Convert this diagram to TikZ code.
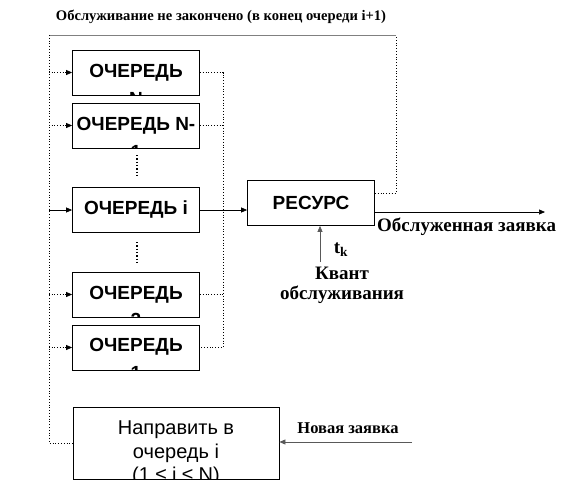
\documentclass[tikz,border=0pt]{standalone}
\usepackage{fontspec}
\setmainfont{Liberation Serif}
\newfontfamily\arialf{Liberation Sans}
\usetikzlibrary{arrows.meta,calc}
\begin{document}
\begin{tikzpicture}[x=1pt,y=-1pt,
  qbox/.style={draw,line width=0.8pt,minimum width=127pt,minimum height=45pt,inner sep=0pt},
  qtext/.style={font=\arialf\bfseries\fontsize{19}{22}\selectfont,inner sep=0pt},
  btext/.style={font=\arialf\fontsize{20}{23}\selectfont,inner sep=0pt},
  slabel/.style={font=\bfseries\fontsize{14.6}{17}\selectfont,inner sep=0pt},
  nlabel/.style={font=\bfseries\fontsize{16.5}{19}\selectfont,inner sep=0pt},
  llabel/.style={font=\bfseries\fontsize{19}{22}\selectfont,inner sep=0pt},
  arr/.style={-{Triangle[length=6pt,width=5pt]},line width=0.7pt},
  bus/.style={dotted,line width=0.8pt}]
\useasboundingbox (0,0) rectangle (585,482);
% boxes
\node[qbox] (q1) at (136,72.5) {};
\node[qbox] (q2) at (136,125.5) {};
\node[qbox] (q3) at (136,210) {};
\node[qbox] (q4) at (136,294.5) {};
\node[qbox] (q5) at (136,347.5) {};
\node[qbox] (res) at (311,203) {};
\node[draw,line width=0.8pt,minimum width=206pt,minimum height=72pt,inner sep=0pt] (bot) at (176,443) {};
% clipped texts
\begin{scope}\clip (q1.south west) rectangle (q1.north east);
  \node[qtext] (t1a) at (136,72.5) {ОЧЕРЕДЬ};
  \node[qtext] (t1b) at (136,99) {N};
\end{scope}
\begin{scope}\clip (q2.south west) rectangle (q2.north east);
  \node[qtext] (t2a) at (136,125.5) {ОЧЕРЕДЬ N-};
  \node[qtext] (t2b) at (136,152) {1};
\end{scope}
\node[qtext] (t3) at (136,210) {ОЧЕРЕДЬ i};
\begin{scope}\clip (q4.south west) rectangle (q4.north east);
  \node[qtext] (t4a) at (136,294.5) {ОЧЕРЕДЬ};
  \node[qtext] (t4b) at (136,320) {2};
\end{scope}
\begin{scope}\clip (q5.south west) rectangle (q5.north east);
  \node[qtext] (t5a) at (136,347) {ОЧЕРЕДЬ};
  \node[qtext] (t5b) at (136,373) {1};
\end{scope}
\node[qtext] (tr) at (311,203) {РЕСУРС};
\begin{scope}\clip (bot.south west) rectangle (bot.north east);
  \node[btext] (b1) at (176,430) {Направить в};
  \node[btext] (b2) at (176,453) {очередь i};
  \node[btext] (b3) at (176,476) {(1 ≤ i ≤ N)};
\end{scope}
% ellipsis dots
\draw[dotted,line width=1.3pt] (137,155) -- (137,178);
\draw[dotted,line width=1.3pt] (137,242) -- (137,264);
% coordinates
\coordinate (lb) at (49,0);
\coordinate (rc) at (223,0);
\coordinate (tl) at (49,35);
\coordinate (tr2) at (396,35);
\coordinate (lp) at (396,193);
\coordinate (outend) at (545,212);
\coordinate (tkbase) at (320,262);
\coordinate (newin) at (412,442);
% loop back
\draw[bus] ([yshift=10pt]res.east) -- (lp) -- (tr2);
\draw[gray,line width=0.8pt] (tr2) -- (tl);
\draw[bus] (tl) -- (bot.west -| lb) -- (bot.west);
% arrows into queues
\foreach \q in {q1,q2,q4,q5}{\draw[arr,dotted] (\q.west -| lb) -- (\q.west);}
\draw[arr] (q3.west -| lb) -- (q3.west);
% collector
\draw[bus] (q1.east) -- (q1.east -| rc) -- (q5.east -| rc) -- (q5.east);
\draw[bus] (q2.east) -- (q2.east -| rc);
\draw[bus] (q4.east) -- (q4.east -| rc);
\draw[arr] (q3.east) -- (q3.east -| res.west);
% output
\draw[arr] ([yshift=-9pt]res.east) -- (outend);
% quantum
\draw[arr,gray!70!black] (tkbase) -- (tkbase |- res.south);
\draw[arr,gray!70!black] (newin) -- (newin -| bot.east);
% labels
\node[slabel] (top) at (221,17) {Обслуживание не закончено (в конец очереди i+1)};
\node[llabel,anchor=west] (served) at (377,227) {Обслуженная заявка};
\node[llabel] (tk) at (341,250) {t\textsubscript{k}};
\node[llabel] (kv) at (342,273) {Квант};
\node[llabel] (obs) at (342,295) {обслуживания};
\node[nlabel] (nz) at (348,428) {Новая заявка};
\end{tikzpicture}
\end{document}
